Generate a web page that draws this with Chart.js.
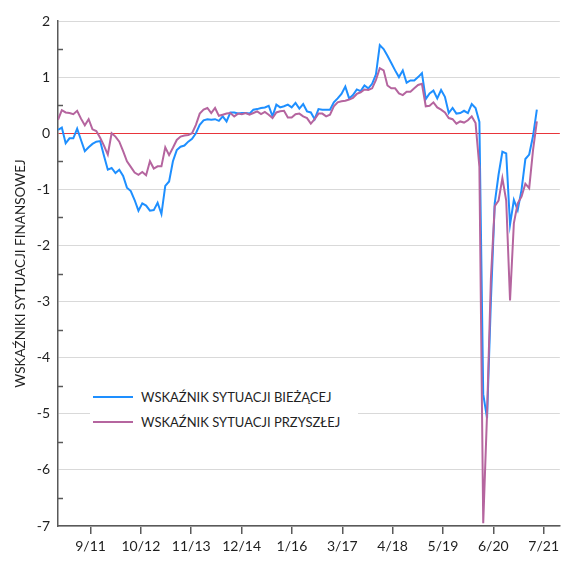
<!DOCTYPE html>
<html>
<head>
<meta charset="utf-8">
<script src="https://cdn.jsdelivr.net/npm/chart.js@4.4.1/dist/chart.umd.min.js"></script>
<style>
  html, body { margin: 0; padding: 0; background: #fff; }
  #wrap { position: relative; width: 563px; height: 562px; }
  #legend { position: absolute; left: 90px; top: 384px; width: 268px; height: 52px;
            background: #fff; font: 13px Lato, sans-serif; color: #1f1f1f; }
  .item { position: absolute; left: 0; height: 25px; display: flex; align-items: center; white-space: nowrap; }
  .swatch { width: 40px; height: 2px; margin-left: 3px; margin-right: 8px; }
</style>
</head>
<body>
<div id="wrap">
  <canvas id="chart" width="563" height="562"></canvas>
  <div id="legend"></div>
</div>
<script>
// monthly readings, Jan 2011 .. Jun 2021 (x = months since Jan 2011)
const biezacej = [
  0.06, 0.10, -0.18, -0.09, -0.09, 0.08, -0.12, -0.32, -0.25, -0.19,
  -0.15, -0.14, -0.40, -0.65, -0.62, -0.71, -0.65, -0.76, -0.97, -1.03,
  -1.19, -1.38, -1.25, -1.29, -1.38, -1.37, -1.24, -1.44, -0.94, -0.86,
  -0.50, -0.30, -0.24, -0.22, -0.15, -0.10, 0.00, 0.15, 0.23, 0.25,
  0.24, 0.25, 0.22, 0.30, 0.21, 0.37, 0.37, 0.35, 0.36, 0.36,
  0.35, 0.42, 0.43, 0.45, 0.46, 0.49, 0.30, 0.51, 0.46, 0.48,
  0.51, 0.46, 0.54, 0.44, 0.52, 0.39, 0.37, 0.25, 0.43, 0.42,
  0.42, 0.42, 0.55, 0.62, 0.70, 0.83, 0.62, 0.68, 0.78, 0.75,
  0.85, 0.80, 0.88, 1.05, 1.57, 1.50, 1.38, 1.25, 1.12, 1.00,
  1.12, 0.90, 0.94, 0.94, 1.00, 1.07, 0.61, 0.71, 0.76, 0.62,
  0.77, 0.65, 0.36, 0.45, 0.35, 0.36, 0.40, 0.36, 0.52, 0.45,
  0.20, -4.65, -5.08, -3.00, -1.25, -0.74, -0.33, -0.36, -1.63, -1.19,
  -1.37, -1.01, -0.46, -0.38, -0.05, 0.42
];
const przyszlej = [
  0.24, 0.41, 0.37, 0.36, 0.34, 0.40, 0.26, 0.14, 0.25, 0.07,
  0.04, -0.08, -0.22, -0.38, 0.00, -0.06, -0.15, -0.32, -0.50, -0.60,
  -0.70, -0.74, -0.69, -0.75, -0.50, -0.63, -0.59, -0.59, -0.25, -0.39,
  -0.26, -0.12, -0.06, -0.04, -0.03, 0.00, 0.15, 0.35, 0.42, 0.45,
  0.36, 0.45, 0.31, 0.33, 0.35, 0.36, 0.30, 0.35, 0.34, 0.36,
  0.33, 0.36, 0.39, 0.34, 0.38, 0.33, 0.27, 0.37, 0.39, 0.40,
  0.28, 0.28, 0.34, 0.35, 0.30, 0.27, 0.17, 0.25, 0.35, 0.35,
  0.30, 0.33, 0.48, 0.55, 0.57, 0.58, 0.60, 0.63, 0.70, 0.73,
  0.78, 0.77, 0.80, 0.95, 1.16, 1.12, 0.85, 0.80, 0.80, 0.71,
  0.68, 0.74, 0.74, 0.80, 0.86, 0.88, 0.48, 0.49, 0.55, 0.46,
  0.42, 0.37, 0.27, 0.25, 0.17, 0.21, 0.19, 0.23, 0.30, 0.18,
  -0.60, -6.95, -5.00, -2.60, -1.30, -1.20, -0.80, -1.20, -2.98, -1.60,
  -1.25, -1.13, -0.90, -0.98, -0.30, 0.21
];
const seriesNames = ['WSKAŹNIK SYTUACJI BIEŻĄCEJ', 'WSKAŹNIK SYTUACJI PRZYSZŁEJ'];
const seriesColors = ['#1e8fff', '#b5659f'];
const tickLabels = ['9/11', '10/12', '11/13', '12/14', '1/16', '3/17', '4/18', '5/19', '6/20', '7/21'];

// date axis: first tick mid-Sep 2011, then one every 400 days
const firstTick = 8.5;
const tickStep = 400 / (365.25 / 12);
const tickPos = tickLabels.map((_, i) => firstTick + i * tickStep);

const axisColor = '#595959';
const textColor = '#1f1f1f';
Chart.defaults.font.family = 'Lato, sans-serif';

const toPoints = arr => arr.map((v, i) => ({ x: i, y: v }));

// small inward marks on the value axis between the gridlines
const halfTicks = {
  id: 'halfTicks',
  afterDraw(chart) {
    const { ctx, chartArea, scales } = chart;
    const y = scales.y;
    ctx.save();
    ctx.strokeStyle = axisColor;
    ctx.lineWidth = 1.5;
    for (let v = y.min + 0.5; v < y.max; v += 1) {
      const py = Math.round(y.getPixelForValue(v)) + 0.5;
      ctx.beginPath();
      ctx.moveTo(chartArea.left, py);
      ctx.lineTo(chartArea.left + 5, py);
      ctx.stroke();
    }
    ctx.restore();
  }
};

new Chart(document.getElementById('chart'), {
  type: 'line',
  data: {
    datasets: [
      { label: seriesNames[0], data: toPoints(biezacej), borderColor: seriesColors[0], order: 1 },
      { label: seriesNames[1], data: toPoints(przyszlej), borderColor: seriesColors[1], order: 0 }
    ]
  },
  options: {
    responsive: false,
    animation: false,
    layout: { padding: { top: 21, left: 0, right: 0, bottom: 0 } },
    plugins: { legend: { display: false }, tooltip: { enabled: false } },
    elements: {
      point: { radius: 0 },
      line: { borderWidth: 2, tension: 0, fill: false }
    },
    scales: {
      x: {
        type: 'linear',
        min: 0,
        max: 131,
        afterBuildTicks: s => { s.ticks = tickPos.map(v => ({ value: v })); },
        afterFit: s => { s.height = 36; },
        ticks: {
          autoSkip: false,
          maxRotation: 0,
          padding: 4,
          color: textColor,
          font: { size: 14 },
          callback: (v, i) => tickLabels[i]
        },
        grid: { drawOnChartArea: false, drawTicks: true, tickLength: 8, color: axisColor, lineWidth: 1.5 },
        border: { color: axisColor, width: 1.5 }
      },
      y: {
        min: -7,
        max: 2,
        afterFit: s => { s.width = 58; },
        ticks: { stepSize: 1, padding: 8, color: textColor, font: { size: 14 } },
        grid: {
          drawTicks: false,
          lineWidth: 1,
          color: c => (c.tick && c.tick.value === 0) ? '#e8353b' : '#d9d9d9'
        },
        border: { color: axisColor, width: 1.5 },
        title: {
          display: true,
          text: 'WSKAŹNIKI SYTUACJI FINANSOWEJ',
          color: textColor,
          font: { size: 13.5 },
          padding: { top: 13, bottom: 0 }
        }
      }
    }
  },
  plugins: [halfTicks]
});

// legend inside the plot area
const legend = document.getElementById('legend');
seriesNames.forEach((name, i) => {
  const row = document.createElement('div');
  row.className = 'item';
  row.style.top = (i * 25) + 'px';
  const sw = document.createElement('span');
  sw.className = 'swatch';
  sw.style.background = seriesColors[i];
  const txt = document.createElement('span');
  txt.textContent = name;
  row.appendChild(sw);
  row.appendChild(txt);
  legend.appendChild(row);
});
</script>
</body>
</html>
